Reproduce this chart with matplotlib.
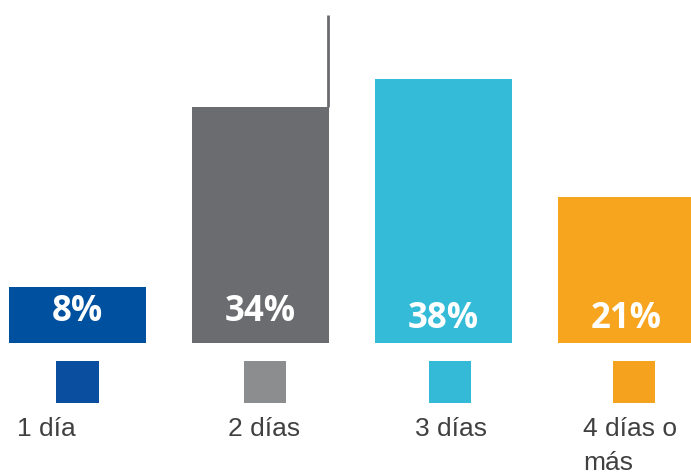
import matplotlib.pyplot as plt

categories = ['1 día', '2 días', '3 días', '4 días o\nmás']
values = [8, 34, 38, 21]
value_labels = ['8%', '34%', '38%', '21%']
bar_colors = ['#0050a0', '#6b6c70', '#33bbd7', '#f7a51f']
square_colors = ['#0a4f9f', '#8c8d8f', '#34bad6', '#f5a21e']

# layout tweaks (per bar)
pct_y = [4.4, 4.4, 3.5, 3.5]
label_dx = [-0.17, 0.02, 0.04, 0.02]
square_dx = [0.0, 0.025, 0.035, 0.04]

fig = plt.figure(figsize=(6.91, 4.76), dpi=100)
ax = fig.add_axes([0, 0, 1, 1])

x = list(range(len(categories)))
ax.bar(x, values, width=0.75, color=bar_colors)

# thin vertical line going up from the right edge of the 2nd bar
ax.plot([1.37, 1.37], [values[1], 47.2], color='#6b6c70', lw=2, solid_capstyle='butt')

for i in x:
    ax.text(i, pct_y[i], value_labels[i], ha='center', va='center',
            color='white', fontsize=25, fontweight='bold', family='Open Sans')

ax.scatter([i + d for i, d in zip(x, square_dx)], [-5.6] * 4, marker='s',
           s=940, c=square_colors, linewidths=0)

for i in x:
    ax.text(i + label_dx[i], -10.6, categories[i], ha='center', va='top',
            multialignment='left', color='#404040', fontsize=19,
            family='Liberation Sans', linespacing=1.55)

ax.set_xlim(-0.4235, 3.3525)
ax.set_ylim(-19.14, 49.35)
ax.axis('off')

fig.savefig('out.png', dpi=100)
